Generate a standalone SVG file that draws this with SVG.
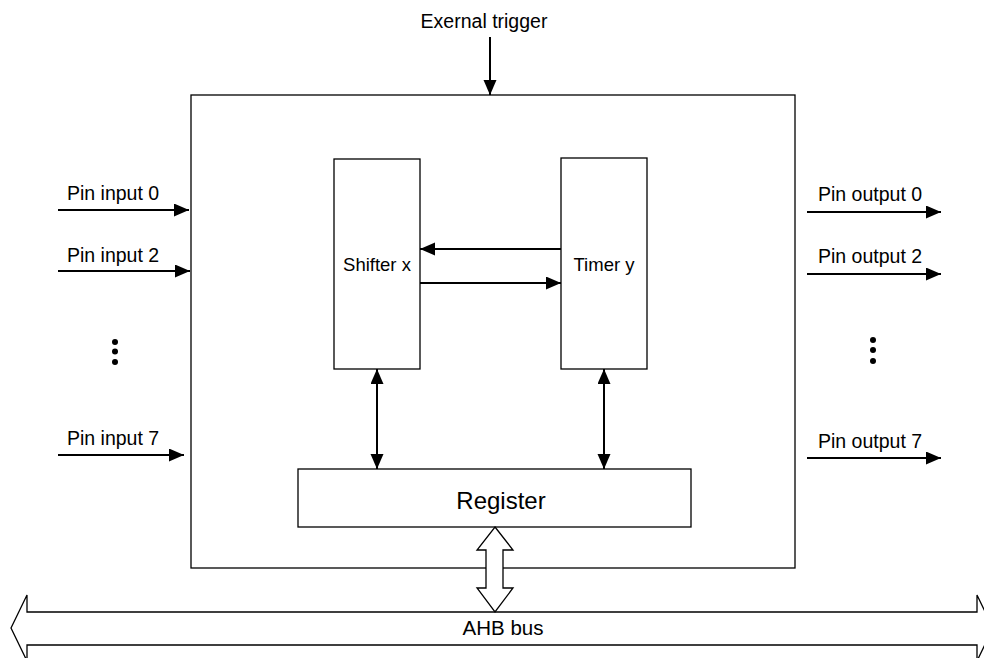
<svg xmlns="http://www.w3.org/2000/svg" width="984" height="658" viewBox="0 0 984 658">
<defs>
<marker id="ah" markerUnits="userSpaceOnUse" markerWidth="16" markerHeight="14" refX="15" refY="6.5" orient="auto-start-reverse" viewBox="0 0 16 14">
<path d="M0,0 L15,6.5 L0,13 Z" fill="#000"/>
</marker>
<style>
.box{fill:#fff;stroke:#000;stroke-width:1.3}
.ln{stroke:#000;stroke-width:2;fill:none}
.t{font-family:"Liberation Sans",Arial,sans-serif;fill:#000}
.f{font-size:19.5px}
.s{font-size:18.5px}
</style>
</defs>
<rect width="984" height="658" fill="#fff"/>
<g id="bus">
<path class="box" d="M11,628 L27,595 L27,612 L977,612 L977,595 L993,628 L977,661 L977,645 L27,645 L27,661 Z"/>
<text class="t" x="503" y="635" text-anchor="middle" font-size="20.5">AHB bus</text>
</g>
<g id="main">
<rect class="box" x="191" y="95" width="604" height="473"/>
</g>
<g id="shifter">
<rect class="box" x="334" y="159" width="86" height="210"/>
<text class="t s" x="377" y="271" text-anchor="middle">Shifter x</text>
</g>
<g id="timer">
<rect class="box" x="561" y="158" width="86" height="211"/>
<text class="t s" x="604" y="271" text-anchor="middle">Timer y</text>
</g>
<g id="register">
<rect class="box" x="298" y="469" width="393" height="58"/>
<text class="t" x="501" y="509" text-anchor="middle" font-size="24">Register</text>
</g>
<g id="connectors">
<line class="ln" x1="490" y1="37" x2="490" y2="95" marker-end="url(#ah)"/>
<line class="ln" x1="561" y1="249" x2="420" y2="249" marker-end="url(#ah)"/>
<line class="ln" x1="420" y1="283" x2="561" y2="283" marker-end="url(#ah)"/>
<line class="ln" x1="377" y1="369" x2="377" y2="469" marker-start="url(#ah)" marker-end="url(#ah)"/>
<line class="ln" x1="604" y1="369" x2="604" y2="469" marker-start="url(#ah)" marker-end="url(#ah)"/>
<line class="ln" x1="58" y1="210" x2="189" y2="210" marker-end="url(#ah)"/>
<line class="ln" x1="58" y1="271" x2="190" y2="271" marker-end="url(#ah)"/>
<line class="ln" x1="58" y1="455" x2="184" y2="455" marker-end="url(#ah)"/>
<line class="ln" x1="807" y1="212" x2="941" y2="212" marker-end="url(#ah)"/>
<line class="ln" x1="807" y1="274" x2="941" y2="274" marker-end="url(#ah)"/>
<line class="ln" x1="807" y1="458" x2="941" y2="458" marker-end="url(#ah)"/>
<path class="box" d="M495,527 L513,550 L503,550 L503,588 L513,588 L495,612 L477,588 L486,588 L486,550 L477,550 Z"/>
</g>
<g id="labels">
<text class="t f" x="484" y="28" text-anchor="middle">Exernal trigger</text>
<text class="t f" x="67" y="200">Pin input 0</text>
<text class="t f" x="67" y="262">Pin input 2</text>
<text class="t f" x="67" y="445">Pin input 7</text>
<text class="t f" x="818" y="201">Pin output 0</text>
<text class="t f" x="818" y="263">Pin output 2</text>
<text class="t f" x="818" y="448">Pin output 7</text>
<circle cx="115" cy="342" r="3"/>
<circle cx="115" cy="351.5" r="3"/>
<circle cx="115" cy="362" r="3"/>
<circle cx="873" cy="340" r="3"/>
<circle cx="873" cy="350" r="3"/>
<circle cx="873" cy="361" r="3"/>
</g>
</svg>
